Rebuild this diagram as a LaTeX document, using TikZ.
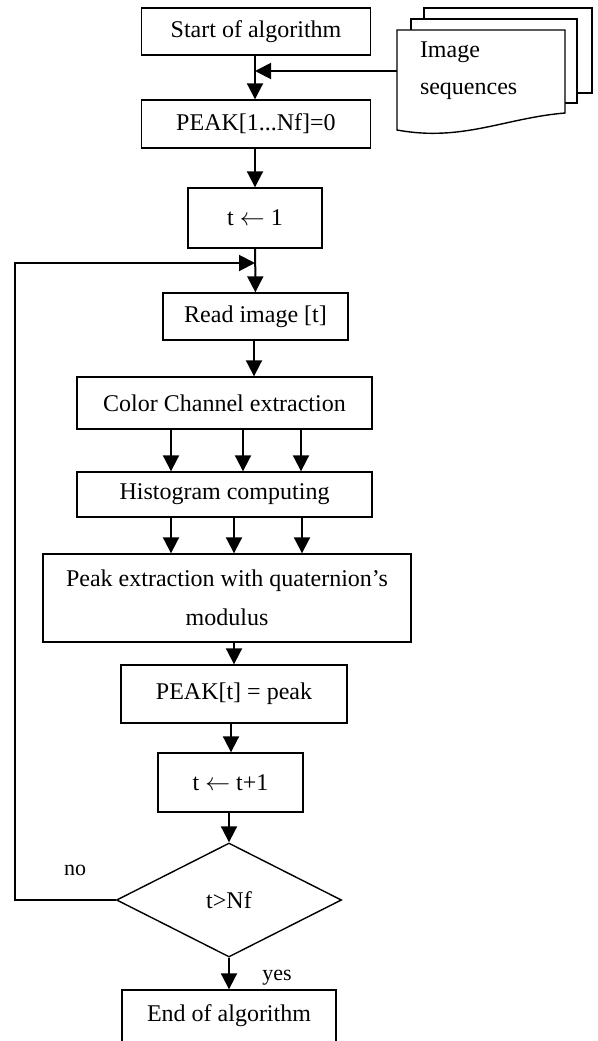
\documentclass[tikz,border=0pt]{standalone}
\usepackage{fontspec}
\setmainfont{Liberation Serif}
\usetikzlibrary{arrows.meta,calc,shapes.geometric}

\begin{document}
\begin{tikzpicture}[
  x=1pt, y=-1pt,
  box/.style={draw, line width=1.4pt, fill=white, align=center, inner sep=0pt, font=\fontsize{24}{39}\selectfont},
  decision/.style={diamond, draw, line width=1.4pt, fill=white, aspect=2, inner sep=0pt, font=\fontsize{24}{28}\selectfont},
  lbl/.style={font=\fontsize{22}{26}\selectfont},
  sheet/.style={draw, line width=1.4pt, fill=white},
  line/.style={-{Triangle[length=16pt,width=16pt]}, line width=2pt}
]
\useasboundingbox (0,0) rectangle (597,1041);
\clip (0,0) rectangle (597,1041);

\draw[sheet] (424,8) rectangle (592,93);
\draw[sheet] (411,19) rectangle (577,103);
\draw[sheet] (397,30) -- (565,30) -- (565,113) .. controls (505,118) and (462,142) .. (397,130) -- cycle;
\node[font=\fontsize{24}{37}\selectfont, text width=122, inner xsep=23, inner ysep=0pt, align=left] (imgseq) at (481,71) {Image\\sequences};

\node[box, minimum width=229, minimum height=47] (start) at (256,31.5) {Start of algorithm};
\node[box, minimum width=229, minimum height=48] (init) at (256,124) {PEAK[1...Nf]=0};
\node[box, minimum width=134, minimum height=60] (tone) at (255,218) {t $\leftarrow$ 1};
\node[box, minimum width=185, minimum height=47] (read) at (255.5,316.5) {Read image [t]};
\node[box, minimum width=295, minimum height=52] (color) at (224.5,403) {Color Channel extraction};
\node[box, minimum width=295, minimum height=45] (hist) at (224.5,494.5) {Histogram computing};
\node[box, minimum width=368, minimum height=88] (peak) at (227,598) {Peak extraction with quaternion's\\modulus};
\node[box, minimum width=226, minimum height=58] (store) at (234,694) {PEAK[t] = peak};
\node[box, minimum width=145, minimum height=59] (tinc) at (230.5,782.5) {t $\leftarrow$ t+1};
\node[decision, minimum width=225, minimum height=114] (check) at (229,900) {t>Nf};
\node[box, minimum width=214, minimum height=52] (finish) at (229,1016) {End of algorithm};
\node[lbl] (no) at (75,870) {no};
\node[lbl] (yes) at (277,978) {yes};
\coordinate (loopin) at (255,263);

\draw[line] (start.south -| 255,0) -- (init.north -| 255,0);
\draw[line] (imgseq.west) -- (imgseq.west -| 255,0);
\draw[line] (init.south -| tone) -- (tone.north);
\draw[line] (tone) -- (read);
\draw[line] (check.west) -- ++(-101,0) |- (loopin);
\draw[line] (read.south -| 254,0) -- (color.north -| 254,0);
\foreach \px in {171,243,301}
  \draw[line] (color.south -| \px,0) -- (hist.north -| \px,0);
\foreach \px in {171,234,302}
  \draw[line] (hist.south -| \px,0) -- (peak.north -| \px,0);
\draw[line] (peak.south -| store.north) -- (store.north);
\draw[line] (store.south -| 231,0) -- (tinc.north -| 231,0);
\draw[line] (tinc.south -| 229,0) -- (check.north);
\draw[line] (check) -- (finish);
\end{tikzpicture}
\end{document}
